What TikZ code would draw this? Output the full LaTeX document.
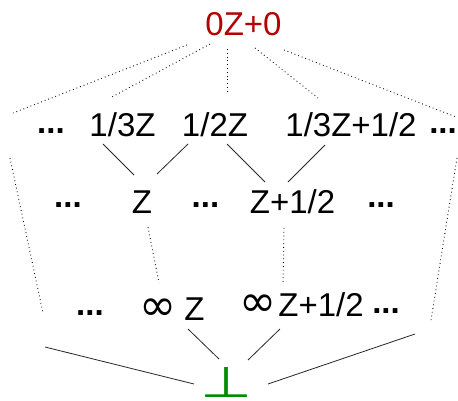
\documentclass[tikz,border=0pt]{standalone}
\usepackage{fontspec}
\setmainfont{Liberation Sans}
\newfontfamily\dejavu{DejaVu Sans}
\newcommand{\infsym}{\scalebox{1.35}{\dejavu ∞}}
\definecolor{topred}{RGB}{180,0,0}
\definecolor{botgreen}{RGB}{0,140,0}
\begin{document}
\begin{tikzpicture}[x=1pt,y=-1pt,
  lbl/.style={inner sep=0pt,anchor=base,font=\fontsize{33}{40}\selectfont},
  dts/.style={inner sep=0pt,anchor=base,font=\fontsize{33}{40}\selectfont\bfseries},
  dotline/.style={line width=0.9pt,dash pattern=on 0.8pt off 3pt,draw=black},
  solidline/.style={line width=0.8pt,draw=black!85}]
\useasboundingbox (0,0) rectangle (458,400);
% top
\node[lbl,text=topred] (top) at (243.5,35) {0Z+0};
% row 2
\node[dts] (r2l) at (51,133) {...};
\node[lbl] (a13) at (122.5,136) {1/3Z};
\node[lbl] (a12) at (215,136) {1/2Z};
\node[lbl] (a13h) at (351,136) {1/3Z+1/2};
\node[dts] (r2r) at (443,133) {...};
% row 3
\node[dts] (r3l) at (68,207) {...};
\node[lbl] (z) at (142,213) {Z};
\node[dts] (r3m) at (205.5,207) {...};
\node[lbl] (zh) at (292.5,213) {Z+1/2};
\node[dts] (r3r) at (381,207) {...};
% row 4
\node[dts] (r4l) at (90,315) {...};
\node[lbl] (iz) at (172,320) {\infsym\kern8pt Z};
\node[lbl] (izh) at (301.5,316) {\infsym\kern2pt Z+1/2};
\node[dts] (r4r) at (386,313) {...};
% bottom
\node[inner sep=0pt,anchor=south,text=botgreen] (bot) at (226,398) {\resizebox{52pt}{30pt}{\dejavu ⊥}};
% connector ends
\coordinate (t1) at (187,45); \coordinate (e1) at (13,113);
\coordinate (t2) at (210,44); \coordinate (e2) at (110,98);
\coordinate (t3) at (227,49); \coordinate (e3) at (227,93);
\coordinate (t4) at (255,48); \coordinate (e4) at (318,98);
\coordinate (t5) at (284,50); \coordinate (e5) at (456,117);
\coordinate (s1a) at (103,144); \coordinate (s1b) at (134,175);
\coordinate (s2a) at (188,144); \coordinate (s2b) at (157,174);
\coordinate (s3a) at (227,144); \coordinate (s3b) at (265,182);
\coordinate (s4a) at (325,145); \coordinate (s4b) at (288,182);
\coordinate (m1a) at (148,227); \coordinate (m1b) at (159,283);
\coordinate (m2a) at (284,228); \coordinate (m2b) at (283,284);
\coordinate (m3a) at (10,158); \coordinate (m3b) at (43,313);
\coordinate (m4a) at (457,158); \coordinate (m4b) at (431,320);
\coordinate (b1a) at (45,347); \coordinate (b1b) at (194,384);
\coordinate (b2a) at (188,329); \coordinate (b2b) at (219,359);
\coordinate (b3a) at (280,329); \coordinate (b3b) at (248,360);
\coordinate (b4a) at (415,334); \coordinate (b4b) at (268,384);
% dotted from top
\draw[dotline] (t1) -- (e1);
\draw[dotline] (t2) -- (e2);
\draw[dotline] (t3) -- (e3);
\draw[dotline] (t4) -- (e4);
\draw[dotline] (t5) -- (e5);
% solid row2 -> row3
\draw[solidline] (s1a) -- (s1b);
\draw[solidline] (s2a) -- (s2b);
\draw[solidline] (s3a) -- (s3b);
\draw[solidline] (s4a) -- (s4b);
% dotted row3 -> row4
\draw[dotline] (m1a) -- (m1b);
\draw[dotline] (m2a) -- (m2b);
\draw[dotline] (m3a) -- (m3b);
\draw[dotline] (m4a) -- (m4b);
% solid to bottom
\draw[solidline] (b1a) -- (b1b);
\draw[solidline] (b2a) -- (b2b);
\draw[solidline] (b3a) -- (b3b);
\draw[solidline] (b4a) -- (b4b);
\end{tikzpicture}
\end{document}
